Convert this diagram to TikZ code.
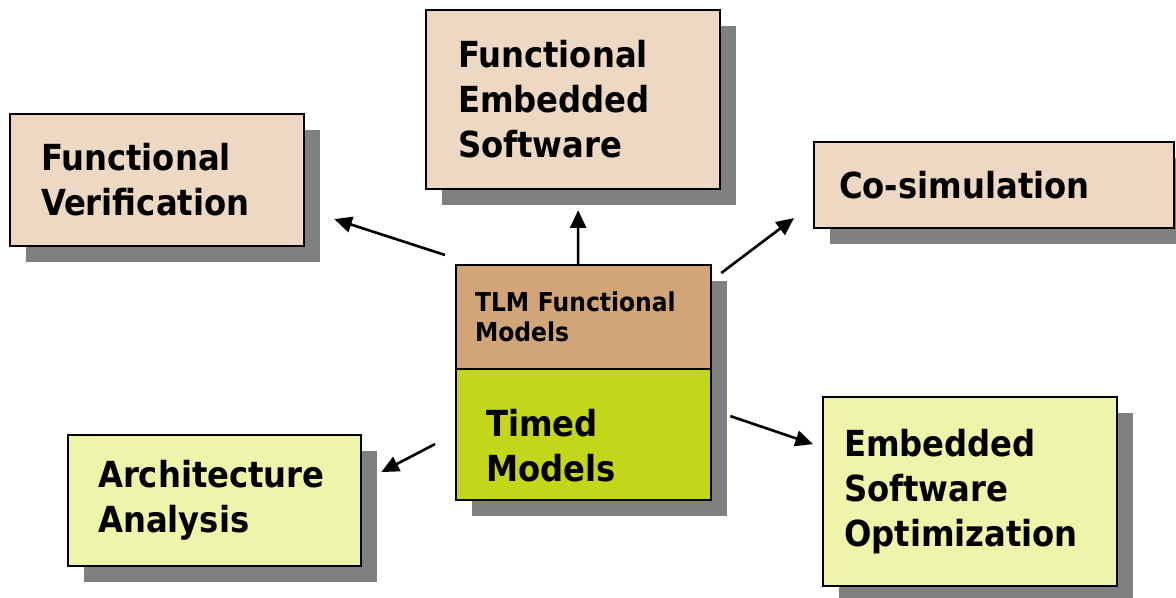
\documentclass[tikz,border=0pt]{standalone}
\usepackage{fontspec}
\setmainfont{DejaVu Sans Condensed}
\usetikzlibrary{shadows,arrows.meta}

\definecolor{tanlight}{RGB}{237,216,196}
\definecolor{tandark}{RGB}{210,165,120}
\definecolor{limedark}{RGB}{196,214,26}
\definecolor{limelight}{RGB}{238,245,170}
\definecolor{shadowgray}{RGB}{128,128,128}

\begin{document}
\begin{tikzpicture}[x=0.01cm, y=-0.01cm,
    box/.style={draw, line width=0.6pt, align=left, anchor=north west, inner ysep=0pt,
        font=\bfseries\fontsize{10.2}{12.8}\selectfont,
        drop shadow={shadow xshift=0.16cm, shadow yshift=-0.16cm, fill=shadowgray, opacity=1}},
    smalltext/.style={font=\bfseries\fontsize{7.4}{8.5}\selectfont},
    arr/.style={line width=0.75pt, -{Triangle[length=5pt,width=4.5pt]}}]

    \useasboundingbox (0,0) rectangle (1176,598);

    % Block in the middle
    \node[box, smalltext, fill=tandark, minimum width=2.55cm, minimum height=1.04cm,
          inner xsep=0.19cm, text width=2.17cm] (tlm) at (455,264)
        {TLM Functional\\Models};
    \node[box, fill=limedark, minimum width=2.55cm, minimum height=1.31cm,
          inner xsep=0.30cm, text width=1.95cm] (timed) at (455,368)
        {\\[1.4pt]Timed\\Models};

    % Boxes round it
    \node[box, fill=tanlight, minimum width=2.94cm, minimum height=1.32cm,
          inner xsep=0.31cm, text width=2.32cm] (fv) at (9,113)
        {Functional\\Verification};
    \node[box, fill=tanlight, minimum width=2.94cm, minimum height=1.79cm,
          inner xsep=0.32cm, text width=2.30cm] (fes) at (425,9)
        {Functional\\Embedded\\Software};
    \node[box, fill=tanlight, minimum width=3.60cm, minimum height=0.86cm,
          inner xsep=0.25cm, text width=3.10cm] (cosim) at (813,141)
        {Co-simulation};
    \node[box, fill=limelight, minimum width=2.93cm, minimum height=1.31cm,
          inner xsep=0.30cm, text width=2.33cm] (aa) at (67,434)
        {Architecture\\Analysis};
    \node[box, fill=limelight, minimum width=2.94cm, minimum height=1.89cm,
          inner xsep=0.21cm, text width=2.52cm] (eso) at (822,396)
        {Embedded\\Software\\Optimization};

    % Arrows out of the middle block
    \draw[arr] ([shift={(-10,-9)}]tlm.north west) -- ([shift={(29,39)}]fv.east);
    \draw[arr] ([shift={(-5.5,0)}]tlm.north) -- ([shift={(5,20)}]fes.south);
    \draw[arr] ([shift={(9,9)}]tlm.north east) -- ([shift={(-19,33)}]cosim.west);
    \draw[arr] ([shift={(-20,9.5)}]timed.west) -- ([shift={(19,-28.5)}]aa.east);
    \draw[arr] ([shift={(18,-18.5)}]timed.east) -- ([shift={(-9,-47.5)}]eso.west);

\end{tikzpicture}
\end{document}
